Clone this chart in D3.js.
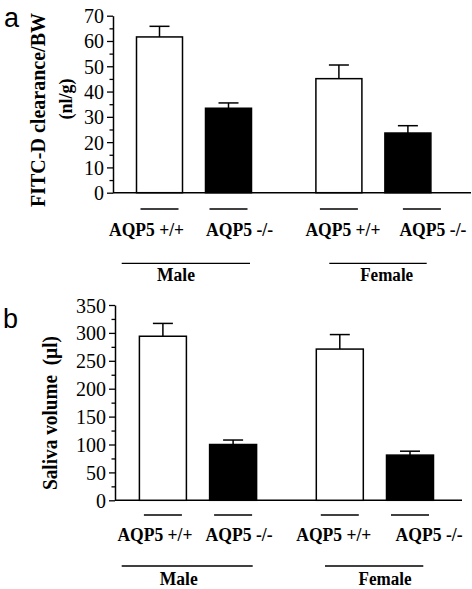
<!DOCTYPE html>
<html><head><meta charset="utf-8">
<script src="https://cdn.jsdelivr.net/npm/d3@7"></script>
<style>
html,body{margin:0;padding:0;background:#fff;}
svg{display:block;}
text{font-family:"Liberation Serif","Times New Roman",serif;fill:#000;}
</style></head>
<body>
<svg id="c" width="472" height="589"></svg>
<script>
// ---- data ----
const categories = ["AQP5 +/+", "AQP5 -/-", "AQP5 +/+", "AQP5 -/-"];
const groups = ["Male", "Male", "Female", "Female"];
const genotype = ["wt", "ko", "wt", "ko"];
const groupNames = ["Male", "Female"];
const clearanceMean = [61.6, 33.4, 45.1, 23.6];
const clearanceSem = [4.2, 2.1, 5.4, 2.9];
const salivaMean = [294, 100, 271, 81];
const salivaSem = [23, 8, 26, 7];
const clearanceTicks = [0, 10, 20, 30, 40, 50, 60, 70];
const salivaTicks = [0, 50, 100, 150, 200, 250, 300, 350];

// ---- layout ----
const svg = d3.select("#c");
const labelLen = {"AQP5 +/+": 75, "AQP5 -/-": 67, "Male": 38, "Female": 53};
const panels = [
  {letter: "a", lx: 4, ly: 27, mean: clearanceMean, sem: clearanceSem, ticks: clearanceTicks, minorStep: 5, max: 70,
   yTop: 15.7, yBot: 192.7, axisX: 113, axisEnd: 471, xFirst: 159.5, xLast: 407.9, gapExtra: 0.6, barW: 46,
   titles: [{t: "FITC-D clearance/BW", x: 45, y: 110, fs: 21, len: 194}, {t: "(nl/g)", x: 72, y: 99, fs: 18, len: null}],
   lineOff: [0, 0, 0, 14], labelOff: [-13, 11, 4, 25],
   shortY: 209, labelY: 236, groupY: 263.3, groupTextY: 281,
   groupLines: [[121.7, 250], [329.3, 426.7]], groupText: [176, 386.7]},
  {letter: "b", lx: 3, ly: 328, mean: salivaMean, sem: salivaSem, ticks: salivaTicks, minorStep: 25, max: 350,
   yTop: 305, yBot: 500.3, axisX: 115, axisEnd: 462, xFirst: 162.9, xLast: 410.0, gapExtra: 0.52, barW: 47,
   titles: [{t: "Saliva volume  (\u00b5l)", x: 57, y: 413, fs: 20, len: 154}],
   lineOff: [0, 0, 0, 0], labelOff: [-8, 6, -6, 19],
   shortY: 515, labelY: 541, groupY: 566, groupTextY: 585,
   groupLines: [[121.7, 252.7], [325, 423.3]], groupText: [178.7, 385]}
];

panels.forEach(p => {
  const g = svg.append("g");
  const y = d3.scaleLinear().domain([0, p.max]).range([p.yBot, p.yTop]);
  const slots = categories.map((c, i) => i + (groups[i] === "Female" ? p.gapExtra : 0));
  const x = d3.scaleLinear().domain([0, 3 + p.gapExtra]).range([p.xFirst, p.xLast]);
  const cx = i => x(slots[i]);

  // panel letter
  g.append("text").attr("x", p.lx).attr("y", p.ly)
    .attr("font-family", "Liberation Sans, Arial, sans-serif").style("font-family", "'Liberation Sans',Arial,sans-serif")
    .style("font-size", "27px").text(p.letter);

  // y title
  p.titles.forEach(t => {
    const tt = g.append("text").attr("transform", `translate(${t.x},${t.y}) rotate(-90)`)
      .attr("text-anchor", "middle").attr("font-weight", "bold").attr("font-size", t.fs)
      .style("white-space", "pre").text(t.t);
    if (t.len) tt.attr("textLength", t.len).attr("lengthAdjust", "spacingAndGlyphs");
  });

  // minor ticks
  const minor = d3.range(0, p.max + 0.001, p.minorStep).filter(v => !p.ticks.includes(v));
  g.append("g").attr("transform", `translate(${p.axisX},0)`)
    .call(d3.axisLeft(y).tickValues(minor).tickSize(3.5).tickSizeOuter(0).tickFormat(""))
    .call(s => s.select(".domain").remove())
    .selectAll("line").attr("stroke-width", 1.3);

  // major axis
  const ax = g.append("g").attr("transform", `translate(${p.axisX},0)`)
    .call(d3.axisLeft(y).tickValues(p.ticks).tickSize(6).tickSizeOuter(0).tickPadding(3));
  ax.attr("font-family", "Liberation Serif, serif").attr("font-size", 20);
  ax.select(".domain").attr("stroke-width", 1.5);
  ax.selectAll("line").attr("stroke-width", 1.3);
  ax.selectAll("text").attr("dy", "0.35em");

  // x axis line
  g.append("line").attr("x1", p.axisX).attr("x2", p.axisEnd).attr("y1", y(0)).attr("y2", y(0))
    .attr("stroke", "#000").attr("stroke-width", 1.5);

  // error bars
  categories.forEach((c, i) => {
    const top = y(p.mean[i] + p.sem[i]);
    g.append("line").attr("x1", cx(i)).attr("x2", cx(i)).attr("y1", y(p.mean[i])).attr("y2", top)
      .attr("stroke", "#000").attr("stroke-width", 1.5);
    g.append("line").attr("x1", cx(i) - 10).attr("x2", cx(i) + 10).attr("y1", top).attr("y2", top)
      .attr("stroke", "#000").attr("stroke-width", 1.5);
  });

  // bars
  g.selectAll("rect.bar").data(p.mean).join("rect").attr("class", "bar")
    .attr("x", (d, i) => cx(i) - p.barW / 2).attr("width", p.barW)
    .attr("y", d => y(d)).attr("height", d => y(0) - y(d))
    .attr("fill", (d, i) => genotype[i] === "wt" ? "#fff" : "#000")
    .attr("stroke", "#000").attr("stroke-width", 1.5);

  // short lines + labels
  categories.forEach((c, i) => {
    const lc = cx(i) + p.lineOff[i];
    g.append("line").attr("x1", lc - 19).attr("x2", lc + 19).attr("y1", p.shortY).attr("y2", p.shortY)
      .attr("stroke", "#000").attr("stroke-width", 1.3);
    g.append("text").attr("x", cx(i) + p.labelOff[i]).attr("y", p.labelY).attr("text-anchor", "middle")
      .attr("font-weight", "bold").attr("font-size", 18)
      .attr("textLength", labelLen[c]).attr("lengthAdjust", "spacingAndGlyphs").text(c);
  });

  // group lines + names
  groupNames.forEach((gn, k) => {
    g.append("line").attr("x1", p.groupLines[k][0]).attr("x2", p.groupLines[k][1])
      .attr("y1", p.groupY).attr("y2", p.groupY).attr("stroke", "#000").attr("stroke-width", 1.3);
    g.append("text").attr("x", p.groupText[k]).attr("y", p.groupTextY).attr("text-anchor", "middle")
      .attr("font-weight", "bold").attr("font-size", 18)
      .attr("textLength", labelLen[gn]).attr("lengthAdjust", "spacingAndGlyphs").text(gn);
  });
});
</script>
</body></html>
